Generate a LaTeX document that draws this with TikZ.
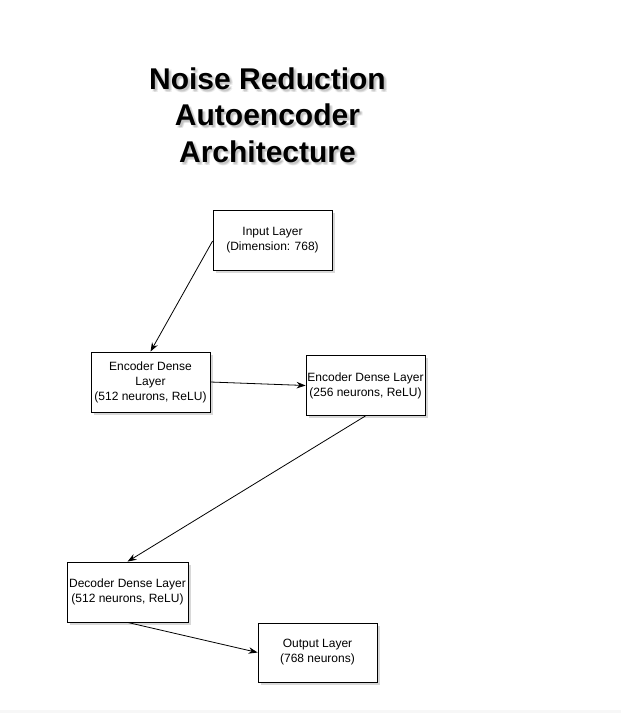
\documentclass[tikz,border=0pt]{standalone}
\usepackage{fontspec}
\setmainfont{Liberation Sans}
\usetikzlibrary{arrows.meta,shadows}
\begin{document}
\begin{tikzpicture}[x=1pt,y=-1pt,
  layer/.style={draw=black,line width=0.8pt,fill=white,inner sep=0pt,
    align=center,font=\fontsize{12}{15}\selectfont,
    drop shadow={shadow xshift=2.5pt,shadow yshift=-2.5pt,opacity=0.25,fill=black!60}},
  conn/.style={draw=black,line width=0.8pt,-{Stealth[length=9pt,width=6.5pt]}},
  ttl/.style={align=center,font=\fontsize{30}{36.5}\selectfont\bfseries}]
\useasboundingbox (0,0) rectangle (621,713);
\fill[white] (0,0) rectangle (621,713);
\fill[black!3] (0,710) rectangle (621,713);
% title with soft shadow
\foreach \dx/\dy/\op in {2/2/0.12,3/3/0.10,1.5/3/0.08,3/1.5/0.08}
  \node[ttl,text=black!70,text opacity=\op] at (267.5+\dx,115+\dy) {Noise Reduction\\Autoencoder\\Architecture};
\node[ttl] (title) at (267.5,115) {Noise Reduction\\Autoencoder\\Architecture};
% boxes
\node[layer,minimum width=119pt,minimum height=60pt] (in) at (272.5,240) {Input Layer\\(Dimension: 768)};
\node[layer,minimum width=119pt,minimum height=60pt] (e1) at (150.5,382) {Encoder Dense\\Layer\\(512 neurons, ReLU)};
\node[layer,minimum width=119pt,minimum height=60pt] (e2) at (365.5,385.5) {Encoder Dense Layer\\(256 neurons, ReLU)};
\node[layer,minimum width=121pt,minimum height=60pt] (d1) at (127.5,592) {Decoder Dense Layer\\(512 neurons, ReLU)};
\node[layer,minimum width=119pt,minimum height=59pt] (out) at (317.5,652.5) {Output Layer\\(768 neurons)};
% connectors
\draw[conn] (in.west) ++(0,1) coordinate (a0) (a0) -- (e1.north);
\draw[conn] (e1.east) -- (e2.west);
\draw[conn] (e2.south) -- (d1.north);
\draw[conn] (d1.south) -- (out.west);
\end{tikzpicture}
\end{document}
